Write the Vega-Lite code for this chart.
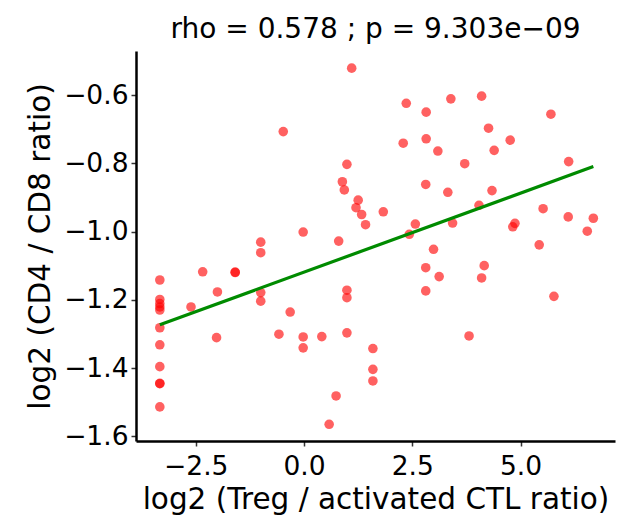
{
  "$schema": "https://vega.github.io/schema/vega-lite/v6.json",
  "autosize": {"type": "none"},
  "padding": {"left": 136, "top": 51, "right": 8, "bottom": 85},
  "width": 479,
  "height": 390,
  "background": "white",
  "config": {
    "font": "DejaVu Sans",
    "view": {"stroke": null},
    "axis": {
      "grid": false,
      "domainColor": "black",
      "domainWidth": 2.5,
      "tickColor": "#333333",
      "tickWidth": 1.5,
      "tickSize": 5,
      "labelColor": "black",
      "labelFontSize": 26.5,
      "labelFont": "DejaVu Sans",
      "titleFont": "DejaVu Sans",
      "titleFontSize": 29.5,
      "titleFontWeight": "normal",
      "titleColor": "black"
    }
  },
  "title": {
    "text": "rho = 0.578 ; p = 9.303e−09",
    "fontSize": 28,
    "fontWeight": "normal",
    "font": "DejaVu Sans",
    "color": "black",
    "anchor": "middle",
    "offset": 7
  },
  "data": {
    "values": [
      {"x": 1.10, "y": -0.521}, {"x": -0.48, "y": -0.707}, {"x": 0.99, "y": -0.803},
      {"x": 0.885, "y": -0.854}, {"x": 0.93, "y": -0.878}, {"x": 1.25, "y": -0.908},
      {"x": 1.20, "y": -0.930}, {"x": 1.33, "y": -0.950}, {"x": 1.42, "y": -0.980},
      {"x": 1.83, "y": -0.942}, {"x": -0.02, "y": -1.0015}, {"x": -1.0, "y": -1.031},
      {"x": 0.80, "y": -1.028}, {"x": 2.36, "y": -0.624}, {"x": 2.82, "y": -0.650},
      {"x": 3.39, "y": -0.611}, {"x": 4.10, "y": -0.603}, {"x": 5.70, "y": -0.656},
      {"x": 4.26, "y": -0.697}, {"x": 4.76, "y": -0.732}, {"x": 2.29, "y": -0.741},
      {"x": 2.82, "y": -0.728}, {"x": 3.09, "y": -0.764}, {"x": 4.39, "y": -0.762},
      {"x": 3.71, "y": -0.801}, {"x": 6.11, "y": -0.795}, {"x": 2.81, "y": -0.862},
      {"x": 3.32, "y": -0.885}, {"x": 4.34, "y": -0.880}, {"x": 4.04, "y": -0.923},
      {"x": 5.52, "y": -0.933}, {"x": 6.10, "y": -0.957}, {"x": 6.68, "y": -0.961},
      {"x": 6.54, "y": -0.999}, {"x": 2.57, "y": -0.978}, {"x": 2.43, "y": -1.008},
      {"x": 3.43, "y": -0.975}, {"x": 4.87, "y": -0.976}, {"x": 4.82, "y": -0.986},
      {"x": 5.43, "y": -1.039}, {"x": 2.99, "y": -1.052}, {"x": 2.81, "y": -1.106},
      {"x": 3.12, "y": -1.132}, {"x": 4.16, "y": -1.100}, {"x": 4.10, "y": -1.136},
      {"x": 2.81, "y": -1.174}, {"x": 5.77, "y": -1.190}, {"x": 3.81, "y": -1.306},
      {"x": 1.59, "y": -1.343}, {"x": 1.59, "y": -1.404}, {"x": 1.59, "y": -1.438},
      {"x": -1.0, "y": -1.062},
      {"x": -3.33, "y": -1.142}, {"x": -3.33, "y": -1.199}, {"x": -3.33, "y": -1.211},
      {"x": -3.33, "y": -1.221}, {"x": -3.33, "y": -1.230}, {"x": -3.33, "y": -1.282},
      {"x": -3.33, "y": -1.332}, {"x": -3.33, "y": -1.396}, {"x": -3.33, "y": -1.445},
      {"x": -3.33, "y": -1.446}, {"x": -3.33, "y": -1.514},
      {"x": -2.61, "y": -1.221}, {"x": -2.34, "y": -1.118}, {"x": -1.59, "y": -1.119},
      {"x": -1.59, "y": -1.120}, {"x": -2.0, "y": -1.177}, {"x": -2.02, "y": -1.311},
      {"x": -1.0, "y": -1.179}, {"x": -1.0, "y": -1.204}, {"x": -0.32, "y": -1.236},
      {"x": -0.58, "y": -1.301}, {"x": -0.02, "y": -1.309}, {"x": -0.02, "y": -1.341},
      {"x": 0.41, "y": -1.308}, {"x": 0.99, "y": -1.172}, {"x": 0.99, "y": -1.194},
      {"x": 0.99, "y": -1.297}, {"x": 0.74, "y": -1.482}, {"x": 0.58, "y": -1.565}
    ]
  },
  "encoding": {
    "x": {
      "field": "x", "type": "quantitative",
      "scale": {"domain": [-3.88, 7.18], "nice": false, "zero": false},
      "axis": {"values": [-2.5, 0, 2.5, 5], "format": ".1f", "title": "log2 (Treg / activated CTL ratio)", "labelPadding": 7, "titlePadding": 6}
    },
    "y": {
      "field": "y", "type": "quantitative",
      "scale": {"domain": [-1.614, -0.4707], "nice": false, "zero": false},
      "axis": {"values": [-1.6, -1.4, -1.2, -1.0, -0.8, -0.6], "format": ".1f", "title": "log2 (CD4 / CD8 ratio)", "labelPadding": 3, "titlePadding": 8}
    }
  },
  "layer": [
    {
      "mark": {"type": "circle", "size": 92, "color": "#ff0000", "opacity": 0.62}
    },
    {
      "transform": [{"regression": "y", "on": "x"}],
      "mark": {"type": "line", "color": "#008b00", "strokeWidth": 3.2}
    }
  ]
}
